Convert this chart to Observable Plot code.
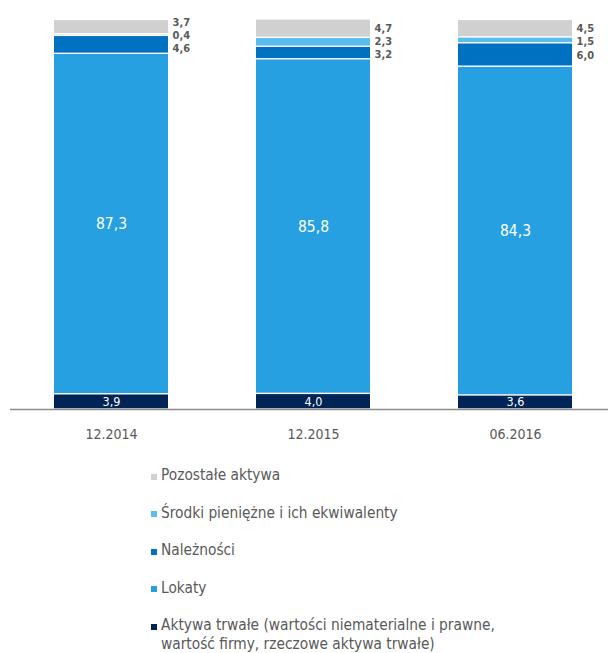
<!DOCTYPE html>
<html>
<head>
<meta charset="utf-8">
<script src="https://cdn.jsdelivr.net/npm/d3@7"></script>
<script src="https://cdn.jsdelivr.net/npm/@observablehq/plot@0.6"></script>
<style>
  body { margin: 0; background: #fff; font-family: "DejaVu Sans Condensed", "DejaVu Sans", sans-serif; }
  #chart { width: 608px; height: 450px; }
  .legend { margin-top: 16px; padding-left: 151px; color: #595959; font-size: 15.3px; }
  .legend .item { display: flex; align-items: flex-start; height: 37.6px; line-height: 19px; }
  .legend .sw { width: 6px; height: 6px; margin-top: 7.5px; margin-right: 4px; flex: none; }
</style>
</head>
<body>
<div id="chart"></div>
<div class="legend" id="legend"></div>
<script>
const periods = ["12.2014", "12.2015", "06.2016"];
const seriesNames = [
  "Aktywa trwałe (wartości niematerialne i prawne, wartość firmy, rzeczowe aktywa trwałe)",
  "Lokaty",
  "Należności",
  "Środki pieniężne i ich ekwiwalenty",
  "Pozostałe aktywa"
];
const seriesColors = ["#002456", "#26a0e1", "#0070c0", "#5bbdee", "#d0d0d0"];
const aktywaTrwale = [3.9, 4.0, 3.6];
const lokaty = [87.3, 85.8, 84.3];
const naleznosci = [4.6, 3.2, 6.0];
const srodki = [0.4, 2.3, 1.5];
const pozostale = [3.7, 4.7, 4.5];

const seriesValues = [aktywaTrwale, lokaty, naleznosci, srodki, pozostale];
const fmt = v => v.toFixed(1).replace(".", ",");

// build stacked table
const rows = [];
periods.forEach((p, i) => {
  let acc = 0;
  seriesValues.forEach((vals, s) => {
    const v = vals[i];
    rows.push({period: p, series: seriesNames[s], s, value: v, y1: acc, y2: acc + v, mid: acc + v / 2});
    acc += v;
  });
});

// outside labels for top three series, dodged to avoid overlap
const outside = [];
periods.forEach(p => {
  const items = rows.filter(r => r.period === p && r.s >= 2).sort((a, b) => b.mid - a.mid);
  const pos = items.map(r => r.mid);
  const gap = 3.35;
  for (let it = 0; it < 60; it++) {
    for (let k = 0; k < pos.length - 1; k++) {
      const d = pos[k] - pos[k + 1];
      if (d < gap) { const e = (gap - d) / 2; pos[k] += e; pos[k + 1] -= e; }
    }
  }
  items.forEach((r, k) => outside.push({...r, ly: pos[k]}));
});
const inside = rows.filter(r => r.s < 2);

const chart = Plot.plot({
  width: 608,
  height: 450,
  marginTop: 19,
  marginBottom: 41,
  marginLeft: 10,
  marginRight: 0,
  style: {fontFamily: "'DejaVu Sans Condensed', 'DejaVu Sans', sans-serif", background: "#fff"},
  x: {domain: periods, paddingInner: 0.436, paddingOuter: 0.198, align: 0.55, label: null},
  y: {domain: [0, 100], axis: null},
  color: {domain: seriesNames, range: seriesColors},
  marks: [
    Plot.rectY(rows, {x: "period", y1: "y1", y2: "y2", fill: "series", insetTop: 0.7, insetBottom: 0.7}),
    Plot.ruleY([0], {stroke: "#8c8c8c", strokeWidth: 1.5}),
    Plot.text(inside.filter(r => r.s === 1), {x: "period", y: "mid", text: d => fmt(d.value), fill: "white", fontSize: 15.5}),
    Plot.text(inside.filter(r => r.s === 0), {x: "period", y: "mid", text: d => fmt(d.value), fill: "white", fontSize: 12.5}),
    Plot.text(outside, {x: "period", y: "ly", text: d => fmt(d.value), fill: "#595959", fontSize: 11, fontWeight: "bold", textAnchor: "start", dx: 61}),
    Plot.axisX({tickSize: 0, tickPadding: 20, fontSize: 14, color: "#595959", label: null})
  ]
});
document.getElementById("chart").append(chart);

const legend = document.getElementById("legend");
const legendOrder = [4, 3, 2, 1, 0];
legendOrder.forEach(s => {
  const item = document.createElement("div");
  item.className = "item";
  const sw = document.createElement("span");
  sw.className = "sw";
  sw.style.background = seriesColors[s];
  const t = document.createElement("span");
  t.textContent = seriesNames[s];
  if (s === 0) { t.style.width = "350px"; }
  item.append(sw, t);
  legend.append(item);
});
</script>
</body>
</html>
